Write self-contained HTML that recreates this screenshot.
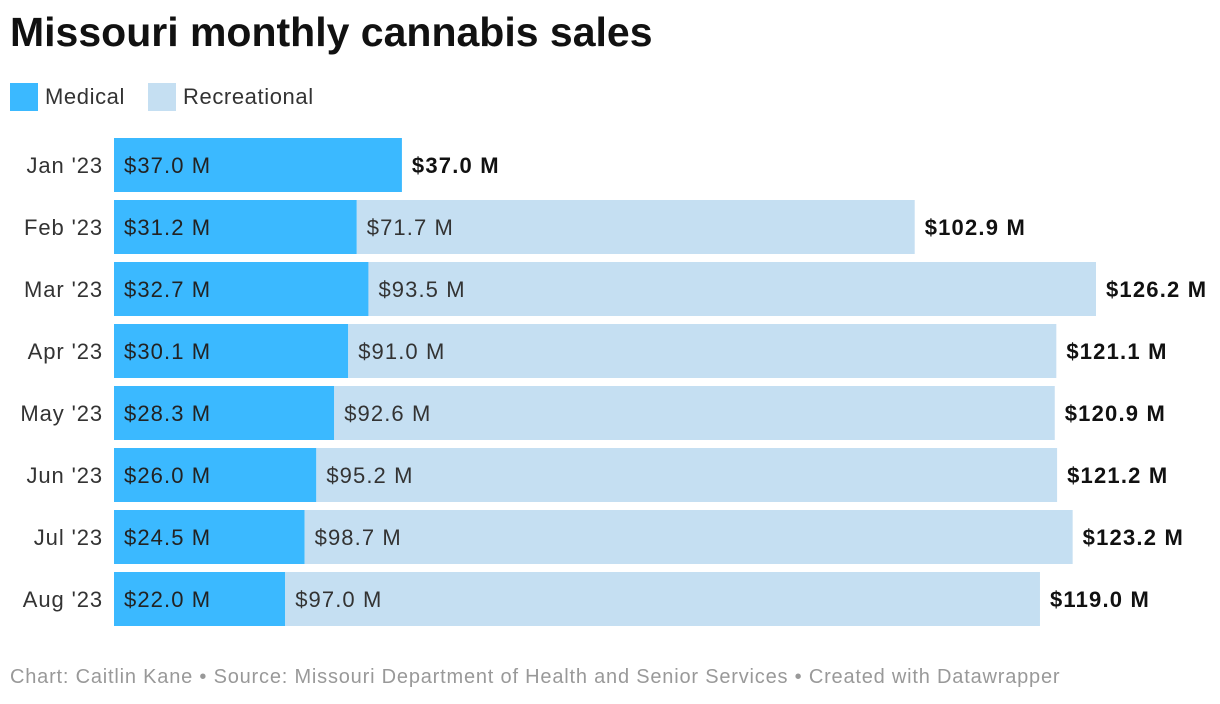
<!DOCTYPE html>
<html><head><meta charset="utf-8">
<style>
body{margin:0;background:#fff;width:1220px;height:704px;overflow:hidden;font-family:"Liberation Sans",sans-serif;position:relative}
#title{position:absolute;left:10px;top:9px;font-size:41px;font-weight:bold;color:#111}
.leg{position:absolute;top:83px;display:flex;align-items:center;font-size:22px;color:#333;letter-spacing:0.6px}
.sw{width:28px;height:28px;margin-right:7px}
#foot{position:absolute;left:10px;top:666px;font-size:20px;color:#999;letter-spacing:0.8px;white-space:nowrap}
</style></head><body>
<div id="title">Missouri monthly cannabis sales</div>
<div class="leg" style="left:10px"><div class="sw" style="background:#3bb9ff"></div>Medical</div>
<div class="leg" style="left:148px"><div class="sw" style="background:#c5dff2"></div>Recreational</div>
<svg id="chart" width="1220" height="704" style="position:absolute;left:0;top:0"></svg>
<div id="foot">Chart: Caitlin Kane • Source: Missouri Department of Health and Senior Services • Created with Datawrapper</div>
<script>
const categories=["Jan '23","Feb '23","Mar '23","Apr '23","May '23","Jun '23","Jul '23","Aug '23"];
const medical=[37.0,31.2,32.7,30.1,28.3,26.0,24.5,22.0];
const recreational=[0,71.7,93.5,91.0,92.6,95.2,98.7,97.0];
const svg=document.getElementById('chart');
const NS='http://www.w3.org/2000/svg';
const x0=114, scale=982/126.2, top0=138, pitch=62, bh=54;
const x=v=>x0+v*scale;
function el(t,a,txt){const e=document.createElementNS(NS,t);for(const k in a)e.setAttribute(k,a[k]);if(txt!=null)e.textContent=txt;svg.appendChild(e);return e;}
const fmt=v=>'$'+v.toFixed(1)+' M';
categories.forEach((c,i)=>{
  const y=top0+i*pitch, cy=y+bh/2+8;
  const l=el('text',{x:103,y:cy,'text-anchor':'end','font-size':22,fill:'#333','letter-spacing':0.9},c);
  
  
  const m=el('rect',{x:x0,y:y,width:x(medical[i])-x0,height:bh,fill:'#3bb9ff'});
  
  
  const mt=el('text',{x:x0+10,y:cy,'font-size':22,fill:'#222','letter-spacing':1.1},fmt(medical[i]));
  
  
  let end=x(medical[i]);
  if(recreational[i]>0){
    const r=el('rect',{x:end,y:y,width:x(medical[i]+recreational[i])-end,height:bh,fill:'#c5dff2'});
    
    
    const rt=el('text',{x:end+10,y:cy,'font-size':22,fill:'#333','letter-spacing':1.1},fmt(recreational[i]));
    
    
    end=x(medical[i]+recreational[i]);
  }
  const tt=el('text',{x:end+10,y:cy,'font-size':22,'font-weight':'bold',fill:'#111','letter-spacing':1.2},fmt(medical[i]+recreational[i]));
  
  
});
</script>
</body></html>
